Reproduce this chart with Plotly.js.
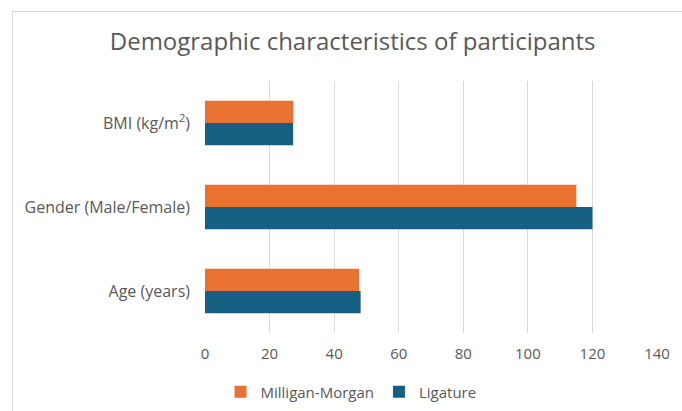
<!DOCTYPE html>
<html>
<head>
<meta charset="utf-8">
<script src="https://cdn.plot.ly/plotly-3.0.1.min.js"></script>
<style>
  html, body { margin: 0; padding: 0; background: #fff; }
  #wrap { position: relative; width: 682px; height: 411px; overflow: hidden; }
  #chart { position: absolute; left: 0; top: 0; width: 682px; height: 411px; }
  #frame { position: absolute; left: 12px; top: 11px; width: 700px; height: 420px; border: 1px solid #D9D9D9; pointer-events: none; }
</style>
</head>
<body>
<div id="wrap">
  <div id="chart"></div>
  <div id="frame"></div>
</div>
<script>
const categories = ['Age (years)', 'Gender (Male/Female)', 'BMI (kg/m<sup>2</sup>)'];
const milliganMorgan = [47.7, 115, 27.3];
const ligature = [48.2, 120, 27.3];
const seriesNames = ['Milligan-Morgan', 'Ligature'];
const xTicks = [0, 20, 40, 60, 80, 100, 120, 140];

const fontFam = '"Open Sans", "Liberation Sans", sans-serif';
const gray = '#595959';

const traces = [
  {
    type: 'bar', orientation: 'h', name: seriesNames[1],
    y: categories, x: ligature,
    marker: { color: '#156082' }, hoverinfo: 'x'
  },
  {
    type: 'bar', orientation: 'h', name: seriesNames[0],
    y: categories, x: milliganMorgan,
    marker: { color: '#E97132' }, hoverinfo: 'x'
  }
];

const layout = {
  width: 682, height: 411,
  margin: { l: 205, r: 25, t: 81, b: 78, autoexpand: false },
  paper_bgcolor: 'rgba(0,0,0,0)',
  plot_bgcolor: 'rgba(0,0,0,0)',
  barmode: 'group',
  bargap: 0.47,
  bargroupgap: 0,
  title: {
    text: 'Demographic characteristics of participants',
    font: { family: fontFam, size: 24, color: gray },
    xref: 'container', x: 0.517, xanchor: 'center',
    yref: 'container', y: 1 - 42 / 411, yanchor: 'middle'
  },
  xaxis: {
    range: [0, 140],
    tickvals: xTicks,
    ticktext: xTicks.map(String),
    showgrid: true, gridcolor: '#D9D9D9', gridwidth: 1,
    zeroline: false, showline: false,
    ticks: '', ticklabelstandoff: 10,
    tickfont: { family: fontFam, size: 15, color: gray },
    fixedrange: true
  },
  yaxis: {
    type: 'category',
    categoryorder: 'array', categoryarray: categories,
    showgrid: false, zeroline: false, showline: false,
    ticks: '', ticklabelstandoff: 14,
    tickfont: { family: fontFam, size: 16, color: gray },
    fixedrange: true
  },
  showlegend: true,
  legend: {
    orientation: 'h', traceorder: 'reversed',
    xref: 'container', x: 351 / 682, xanchor: 'center',
    yref: 'container', y: 1 - 392 / 411, yanchor: 'middle',
    font: { family: fontFam, size: 15, color: gray },
    itemwidth: 30, itemclick: false, itemdoubleclick: false
  }
};

Plotly.newPlot('chart', traces, layout, { displayModeBar: false, staticPlot: true });
</script>
</body>
</html>
